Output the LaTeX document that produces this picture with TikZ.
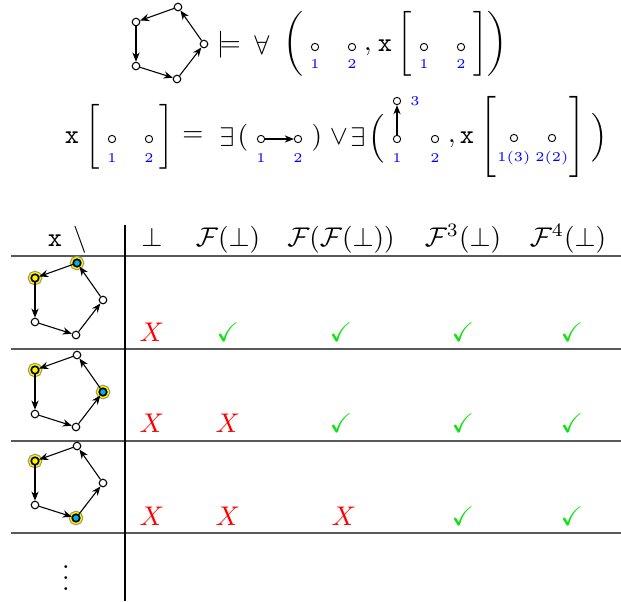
\documentclass[tikz,border=0pt]{standalone}
\usepackage{amssymb}
\usetikzlibrary{arrows.meta}
\definecolor{chk}{RGB}{20,225,20}
\definecolor{halogray}{RGB}{150,150,110}
\tikzset{
  vtx/.style={circle,draw=black,fill=white,inner sep=0pt,minimum size=2.8pt,line width=0.4pt},
  dotv/.style={circle,draw=black,fill=white,inner sep=0pt,minimum size=2.7pt,line width=0.35pt},
  hlbase/.style={circle,draw=black,inner sep=0pt,minimum size=2.8pt,line width=0.6pt,
     preaction={draw=halogray,line width=2.5pt},preaction={draw=yellow,line width=1.7pt}},
  hlx/.style={hlbase,fill=cyan},
  hly/.style={hlbase,fill=yellow},
  edge/.style={-{Stealth[length=3.4pt,width=2.7pt]},line width=0.4pt},
  lbl/.style={font=\tiny,text=blue,inner sep=0pt},
  sym/.style={inner sep=0pt},
  hdr/.style={inner sep=0pt,anchor=base},
  hline/.style={draw=black!65,line width=0.6pt},
  vline/.style={draw=black,line width=0.45pt},
  nomark/.style={inner sep=0pt,text=red},
  yesmark/.style={inner sep=0pt,text=chk},
}
\newcommand\pgraph[3]{%
  \begin{scope}[shift={(#2,#3)}]
    \node[vtx] (#1R) at (204,44) {};
    \node[vtx] (#1T) at (178,7) {};
    \node[vtx] (#1A) at (136,22) {};
    \node[vtx] (#1B) at (136,66) {};
    \node[vtx] (#1C) at (177,79) {};
  \end{scope}}
\newcommand\pedges[1]{%
  \draw[edge] (#1R) -- (#1T);
  \draw[edge] (#1T) -- (#1A);
  \draw[edge] (#1A) -- (#1B);
  \draw[edge] (#1B) -- (#1C);
  \draw[edge] (#1C) -- (#1R);}
\begin{document}
\begin{tikzpicture}[x=0.37pt,y=-0.37pt]
\useasboundingbox (0,0) rectangle (621,601);

% ---------- first formula ----------
\pgraph{g}{0}{0}
\pedges{g}
\node[sym] (models) at (229,45) {$\models$};
\node[sym] (fa) at (262,45) {$\forall$};
\node[sym] (p1) at (293,44) {$\bigg($};
\node[dotv] (a1) at (315,47) {};
\node[dotv] (a2) at (352,47) {};
\node[lbl] (la1) at (315,64) {1};
\node[lbl] (la2) at (352,64) {2};
\node[sym] (c1) at (368,52) {$,$};
\node[sym] (x1) at (385,46) {\texttt{x}};
\node[sym] (b1) at (405,44) {$\bigg[$};
\node[dotv] (a3) at (424,47) {};
\node[dotv] (a4) at (461,47) {};
\node[lbl] (la3) at (424,64) {1};
\node[lbl] (la4) at (461,64) {2};
\node[sym] (b2) at (481,44) {$\bigg]$};
\node[sym] (p2) at (497,44) {$\bigg)$};

% ---------- second formula ----------
\node[sym] (x2) at (72,138) {\texttt{x}};
\node[sym] (b3) at (93,137) {$\bigg[$};
\node[dotv] (d1) at (112,139) {};
\node[dotv] (d2) at (149,139) {};
\node[lbl] (ld1) at (112,158) {1};
\node[lbl] (ld2) at (149,158) {2};
\node[sym] (b4) at (167,137) {$\bigg]$};
\node[sym] (eq) at (193,137) {$=$};
\node[sym] (ex1) at (227,137) {$\exists$};
\node[sym] (p3) at (243,138) {$($};
\node[dotv] (e1) at (261,139) {};
\node[dotv] (e2) at (298,139) {};
\draw[edge] (e1) -- (e2);
\node[lbl] (le1) at (261,158) {1};
\node[lbl] (le2) at (298,158) {2};
\node[sym] (p4) at (317,138) {$)$};
\node[sym] (or) at (339,137) {$\vee$};
\node[sym] (ex2) at (358,137) {$\exists$};
\node[sym] (p5) at (377,139) {$\Big($};
\node[dotv] (f1) at (397,139) {};
\node[dotv] (f3) at (397,101) {};
\draw[edge] (f1) -- (f3);
\node[lbl] (lf3) at (415,101) {3};
\node[lbl] (lf1) at (397,158) {1};
\node[dotv] (f2) at (435,139) {};
\node[lbl] (lf2) at (435,158) {2};
\node[sym] (c2) at (452,144) {$,$};
\node[sym] (x3) at (467,138) {\texttt{x}};
\node[sym] (b5) at (488,137) {$\Bigg[$};
\node[dotv] (h1) at (514,138) {};
\node[dotv] (h2) at (552,138) {};
\node[lbl] (lh1) at (514,158) {$1(3)$};
\node[lbl] (lh2) at (552,158) {$2(2)$};
\node[sym] (b6) at (577,137) {$\Bigg]$};
\node[sym] (p6) at (600,138) {$\Big)$};

% ---------- table ----------
\node[hdr] (hx) at (55,246) {\texttt{x}};
\node[hdr] (hbs) at (80,246) {$\backslash$};
\node[hdr] (h0) at (152,246) {$\bot$};
\node[hdr] (h1) at (228,246) {$\mathcal{F}(\bot)$};
\node[hdr] (h2) at (341,246) {$\mathcal{F}(\mathcal{F}(\bot))$};
\node[hdr] (h3) at (463,246) {$\mathcal{F}^3(\bot)$};
\node[hdr] (h4) at (568,246) {$\mathcal{F}^4(\bot)$};

\draw[hline] (11,256) -- (621,256);
\draw[hline] (11,349) -- (621,349);
\draw[hline] (11,441) -- (621,441);
\draw[hline] (11,533) -- (621,533);
\draw[vline] (125,225) -- (125,601);

% row 1
\pgraph{r1}{-101}{256}
\node[hlx] at (r1T) {};
\node[hly] at (r1A) {};
\pedges{r1}
\node[nomark] (m10) at (152,332) {$X$};
\node[yesmark] (m11) at (228,332) {$\checkmark$};
\node[yesmark] (m12) at (341,332) {$\checkmark$};
\node[yesmark] (m13) at (463,332) {$\checkmark$};
\node[yesmark] (m14) at (572,332) {$\checkmark$};

% row 2
\pgraph{r2}{-101}{348}
\node[hlx] at (r2R) {};
\node[hly] at (r2A) {};
\pedges{r2}
\node[nomark] (m20) at (152,423) {$X$};
\node[nomark] (m21) at (228,423) {$X$};
\node[yesmark] (m22) at (341,423) {$\checkmark$};
\node[yesmark] (m23) at (463,423) {$\checkmark$};
\node[yesmark] (m24) at (572,423) {$\checkmark$};

% row 3
\pgraph{r3}{-101}{439}
\node[hlx] at (r3C) {};
\node[hly] at (r3A) {};
\pedges{r3}
\node[nomark] (m30) at (152,516) {$X$};
\node[nomark] (m31) at (228,516) {$X$};
\node[nomark] (m32) at (344,516) {$X$};
\node[yesmark] (m33) at (463,516) {$\checkmark$};
\node[yesmark] (m34) at (572,516) {$\checkmark$};

\node[sym] (vd) at (66,570) {$\vdots$};
\end{tikzpicture}
\end{document}
